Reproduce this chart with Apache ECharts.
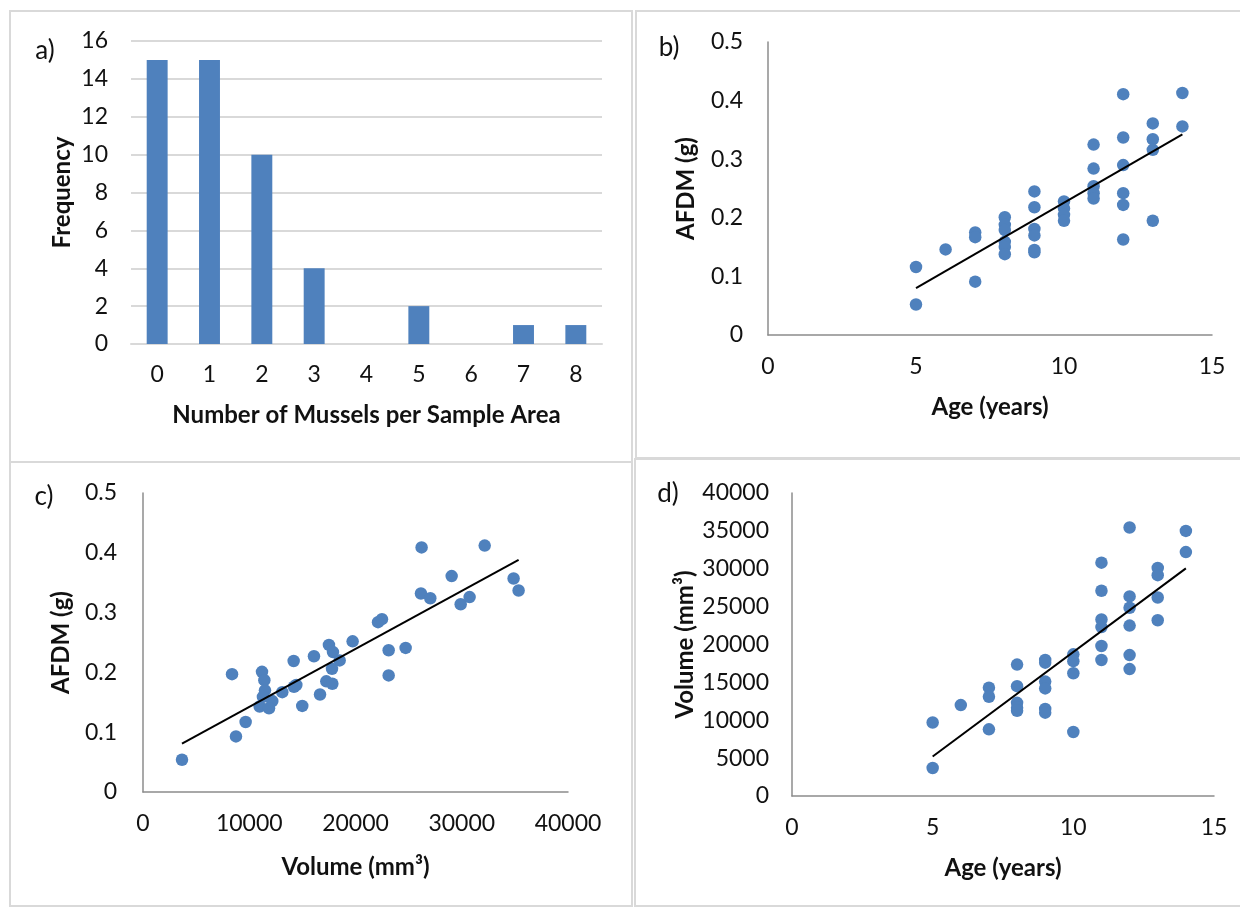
<!DOCTYPE html>
<html>
<head>
<meta charset="utf-8">
<title>Mussels</title>
<script src="https://cdn.jsdelivr.net/npm/echarts@6/dist/echarts.min.js"></script>
<style>
  html, body { margin: 0; padding: 0; background: #fff; }
  #chart { width: 1240px; height: 907px; }
</style>
</head>
<body>
<div id="chart"></div>
<script>
// a) histogram
const musselCounts = ['0', '1', '2', '3', '4', '5', '6', '7', '8']
const frequency = [15, 15, 10, 4, 0, 2, 0, 1, 1]

// b) age vs AFDM
const ageB = [5, 5, 6, 7, 7, 7, 8, 8, 8, 8, 8, 8, 9, 9, 9, 9, 9, 9, 10, 10, 10, 10,
  11, 11, 11, 11, 11, 12, 12, 12, 12, 12, 12, 13, 13, 13, 13, 14, 14]
const afdmB = [0.116, 0.052, 0.146, 0.175, 0.167, 0.091, 0.201, 0.188, 0.179, 0.159, 0.150, 0.138,
  0.245, 0.218, 0.181, 0.170, 0.145, 0.141, 0.228, 0.216, 0.205, 0.195,
  0.325, 0.284, 0.254, 0.242, 0.233, 0.411, 0.337, 0.290, 0.242, 0.222, 0.163,
  0.361, 0.334, 0.316, 0.195, 0.413, 0.356]

// c) volume vs AFDM
const volC = [3670, 8380, 8750, 9660, 11200, 11420, 11480, 11290, 10980, 12170, 11860, 13110,
  14180, 14210, 14430, 14990, 16090, 16660, 17500, 17880, 18510, 17790, 17250, 17820,
  19730, 22120, 22490, 23120, 23120, 24720, 26220, 26160, 27040, 29050, 29900, 30740,
  32160, 34880, 35350]
const afdmC = [0.054, 0.197, 0.093, 0.117, 0.201, 0.187, 0.170, 0.159, 0.143, 0.152, 0.140, 0.167,
  0.219, 0.176, 0.179, 0.144, 0.227, 0.163, 0.246, 0.234, 0.220, 0.206, 0.185, 0.181,
  0.252, 0.284, 0.289, 0.237, 0.195, 0.241, 0.409, 0.332, 0.324, 0.361, 0.314, 0.326,
  0.412, 0.357, 0.337]

// d) age vs volume
const ageD = [5, 5, 6, 7, 7, 7, 8, 8, 8, 8, 8, 9, 9, 9, 9, 9, 9, 10, 10, 10, 10,
  11, 11, 11, 11, 11, 11, 12, 12, 12, 12, 12, 12, 13, 13, 13, 13, 14, 14]
const volD = [9700, 3700, 12000, 14300, 13100, 8800, 17350, 14500, 12300, 11650, 11250,
  17950, 17600, 15100, 14200, 11500, 11000, 18700, 17800, 16200, 8450,
  30800, 27100, 23300, 22300, 19800, 17950, 35450, 26350, 24850, 22500, 18600, 16750,
  30100, 29150, 26200, 23200, 35000, 32200]

const blue = '#4f81bd'
const font = 'Lato, "Open Sans", sans-serif'

// least squares line across the data range
function trend(xs, ys) {
  const n = xs.length
  const mx = xs.reduce((a, b) => a + b, 0) / n
  const my = ys.reduce((a, b) => a + b, 0) / n
  let sxy = 0
  let sxx = 0
  for (let i = 0; i < n; i++) {
    sxy += (xs[i] - mx) * (ys[i] - my)
    sxx += (xs[i] - mx) * (xs[i] - mx)
  }
  const k = sxy / sxx
  const x0 = Math.min(...xs)
  const x1 = Math.max(...xs)
  return [[x0, my + k * (x0 - mx)], [x1, my + k * (x1 - mx)]]
}

const pairs = (xs, ys) => xs.map((x, i) => [x, ys[i]])

const chart = echarts.init(document.getElementById('chart'))

const labelStyle = { color: '#111', fontSize: 23, fontFamily: font }
const nameStyle = { color: '#111', fontSize: 24, fontWeight: 'bold', fontFamily: font }
const greyAxis = { show: true, lineStyle: { color: '#8c8c8c', width: 1.5 } }
const plain = v => String(v)

function valueAxis(gridIndex, min, max, interval, extra) {
  return Object.assign({
    type: 'value',
    gridIndex,
    min,
    max,
    interval,
    axisLine: greyAxis,
    axisTick: { show: false },
    splitLine: { show: false },
    axisLabel: Object.assign({ formatter: plain }, labelStyle),
    nameLocation: 'middle',
    nameTextStyle: nameStyle,
  }, extra)
}

const letter = (text, x, y) => ({
  type: 'text', x, y,
  style: { text, fontSize: 26, fontFamily: font, fill: '#111', align: 'center', verticalAlign: 'middle' },
})

const frame = (x, y, width, height) => ({
  type: 'rect', shape: { x, y, width, height },
  style: { fill: 'none', stroke: '#d9d9d9', lineWidth: 2 }, z: -1,
})

const option = {
  animation: false,
  backgroundColor: '#fff',
  grid: [
    { left: 131, top: 41, width: 471, height: 303, outerBoundsMode: 'none' },
    { left: 768, top: 42, width: 444, height: 293, outerBoundsMode: 'none' },
    { left: 143, top: 493, width: 425, height: 299, outerBoundsMode: 'none' },
    { left: 792, top: 493, width: 422, height: 303, outerBoundsMode: 'none' },
  ],
  xAxis: [
    {
      type: 'category',
      gridIndex: 0,
      data: musselCounts,
      axisLine: { show: true, lineStyle: { color: '#d9d9d9', width: 2 } },
      axisTick: { show: false },
      axisLabel: Object.assign({ margin: 19 }, labelStyle),
      name: 'Number of Mussels per Sample Area',
      nameLocation: 'middle',
      nameGap: 59,
      nameTextStyle: nameStyle,
    },
    valueAxis(1, 0, 15, 5, { name: 'Age (years)', nameGap: 60, axisLabel: Object.assign({ margin: 20, formatter: plain }, labelStyle) }),
    valueAxis(2, 0, 40000, 10000, { name: 'Volume (mm³)', nameGap: 63, axisLabel: Object.assign({ margin: 20, formatter: plain }, labelStyle) }),
    valueAxis(3, 0, 15, 5, { name: 'Age (years)', nameGap: 60, axisLabel: Object.assign({ margin: 20, formatter: plain }, labelStyle) }),
  ],
  yAxis: [
    {
      type: 'value',
      gridIndex: 0,
      min: 0,
      max: 16,
      interval: 2,
      axisLine: { show: false },
      axisTick: { show: false },
      splitLine: { show: true, lineStyle: { color: '#d9d9d9', width: 2 } },
      axisLabel: Object.assign({ margin: 23 }, labelStyle),
      name: 'Frequency',
      nameLocation: 'middle',
      nameGap: 57,
      nameTextStyle: nameStyle,
    },
    valueAxis(1, 0, 0.5, 0.1, { name: 'AFDM (g)', nameGap: 70, axisLabel: Object.assign({ margin: 25, formatter: plain }, labelStyle) }),
    valueAxis(2, 0, 0.5, 0.1, { name: 'AFDM (g)', nameGap: 70, axisLabel: Object.assign({ margin: 26, formatter: plain }, labelStyle) }),
    valueAxis(3, 0, 40000, 5000, { name: 'Volume (mm³)', nameGap: 95, axisLabel: Object.assign({ margin: 23, formatter: plain }, labelStyle) }),
  ],
  series: [
    {
      type: 'bar',
      xAxisIndex: 0,
      yAxisIndex: 0,
      data: frequency,
      barCategoryGap: '60%',
      itemStyle: { color: blue },
    },
    { type: 'scatter', xAxisIndex: 1, yAxisIndex: 1, data: pairs(ageB, afdmB), symbolSize: 12.5, itemStyle: { color: blue, opacity: 1 } },
    { type: 'line', xAxisIndex: 1, yAxisIndex: 1, data: trend(ageB, afdmB), symbol: 'none', lineStyle: { color: '#000', width: 2 }, z: 3 },
    { type: 'scatter', xAxisIndex: 2, yAxisIndex: 2, data: pairs(volC, afdmC), symbolSize: 12.5, itemStyle: { color: blue, opacity: 1 } },
    { type: 'line', xAxisIndex: 2, yAxisIndex: 2, data: trend(volC, afdmC), symbol: 'none', lineStyle: { color: '#000', width: 2 }, z: 3 },
    { type: 'scatter', xAxisIndex: 3, yAxisIndex: 3, data: pairs(ageD, volD), symbolSize: 12.5, itemStyle: { color: blue, opacity: 1 } },
    { type: 'line', xAxisIndex: 3, yAxisIndex: 3, data: trend(ageD, volD), symbol: 'none', lineStyle: { color: '#000', width: 2 }, z: 3 },
  ],
  graphic: [
    frame(10, 11, 622, 451),
    frame(636, 11, 610, 447),
    frame(10, 462, 622, 444),
    frame(635, 459, 611, 447),
    letter('a)', 45, 51),
    letter('b)', 669, 48),
    letter('c)', 44, 497),
    letter('d)', 668, 494),
  ],
}

chart.setOption(option)
</script>
</body>
</html>
